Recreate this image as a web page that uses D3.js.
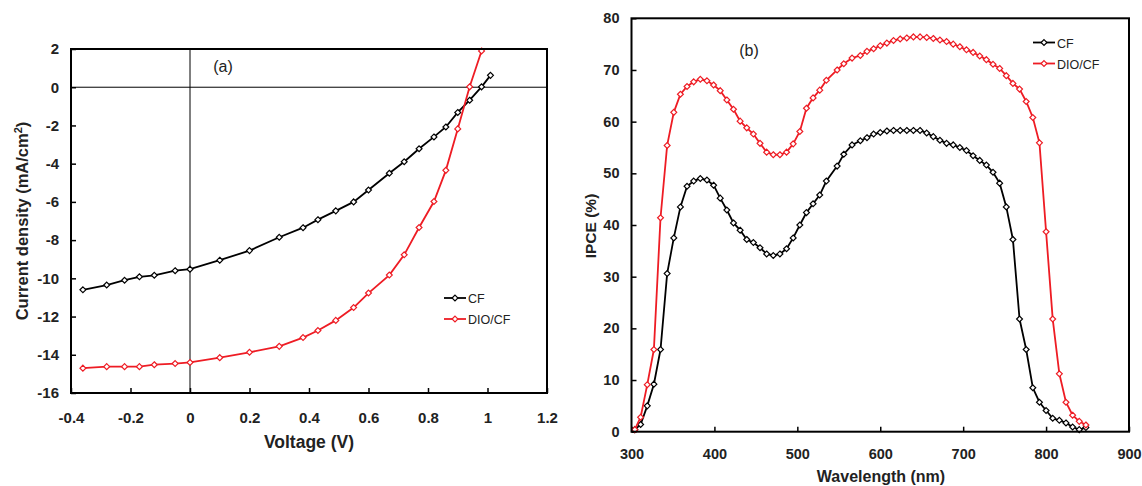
<!DOCTYPE html>
<html>
<head>
<meta charset="utf-8">
<script src="https://cdn.jsdelivr.net/npm/d3@7"></script>
<style>
  body { margin: 0; background: #fff; }
  svg { display: block; font-family: "Liberation Sans", Arial, sans-serif; }
</style>
</head>
<body>
<svg id="chart"></svg>
<script>
const width = 1142;
const height = 486;

// ---- panel (a): J-V curves ----
const voltage = [-0.36, -0.28, -0.22, -0.17, -0.12, -0.05, 0, 0.1, 0.2, 0.3, 0.38, 0.43,
    0.49, 0.55, 0.6, 0.67, 0.72, 0.77, 0.82, 0.86, 0.9, 0.94, 0.98, 1.01];
const jCF = [-10.6, -10.35, -10.1, -9.92, -9.84, -9.6, -9.52, -9.05, -8.55, -7.85, -7.35, -6.93,
    -6.47, -6.0, -5.38, -4.5, -3.9, -3.22, -2.6, -2.08, -1.32, -0.68, 0.02, 0.62];
const jDIO = [-14.7, -14.62, -14.62, -14.62, -14.52, -14.46, -14.4, -14.15, -13.87, -13.56, -13.1, -12.73,
    -12.2, -11.53, -10.77, -9.83, -8.77, -7.34, -5.98, -4.35, -2.18, 0.02, 1.9];
const voltTicks = [-0.4, -0.2, 0, 0.2, 0.4, 0.6, 0.8, 1, 1.2];
const jTicks = [-16, -14, -12, -10, -8, -6, -4, -2, 0, 2];

// ---- panel (b): IPCE spectra ----
const wavelength = [304, 311, 319, 327, 335, 343, 351, 359, 367, 375, 383, 391, 399, 407, 415, 423,
    431, 439, 447, 455, 463, 471, 479, 487, 495, 503, 511, 519, 527, 535, 548, 556, 566, 576,
    584, 592, 600, 608, 616, 624, 632, 640, 648, 656, 664, 672, 680, 688, 696, 704, 712, 720,
    728, 736, 744, 752, 760, 768, 776, 784, 792, 800, 808, 816, 824, 832, 840, 848];
const ipceCF = [0.4, 1.4, 5.0, 9.2, 15.9, 30.6, 37.5, 43.5, 47.5, 48.5, 49.0, 48.7, 47.7, 45.2, 42.9, 40.4,
    39.0, 37.2, 36.6, 35.6, 34.4, 34.1, 34.4, 35.4, 37.5, 40.0, 42.4, 44.1, 45.8, 48.5, 51.4, 53.7, 55.5, 56.3,
    56.9, 57.6, 57.9, 58.2, 58.3, 58.3, 58.3, 58.3, 58.3, 57.8, 57.1, 56.4, 55.8, 55.5, 55.0, 54.4, 53.4, 52.5,
    51.6, 50.2, 48.1, 43.5, 37.2, 21.8, 15.9, 8.5, 5.7, 4.1, 2.6, 2.2, 1.7, 0.9, 0.4, 0.8];
const ipceDIO = [0.4, 2.8, 9.1, 15.9, 41.4, 55.4, 61.8, 65.3, 66.8, 67.7, 68.2, 67.9, 67.1, 66.0, 64.2, 62.4,
    60.1, 58.8, 57.6, 55.8, 54.1, 53.6, 53.6, 54.1, 55.7, 58.1, 62.6, 64.6, 66.1, 68.0, 70.0, 71.2, 72.3, 72.8,
    73.6, 74.1, 74.7, 75.2, 75.7, 76.0, 76.2, 76.4, 76.4, 76.3, 76.1, 75.8, 75.5, 75.0, 74.5, 73.9, 73.4, 72.7,
    72.0, 71.1, 70.3, 68.9, 67.4, 66.3, 63.9, 60.8, 55.9, 38.7, 21.8, 11.2, 5.7, 3.2, 2.0, 1.3];
const wlTicks = [300, 400, 500, 600, 700, 800, 900];
const ipceTicks = [0, 10, 20, 30, 40, 50, 60, 70, 80];

const seriesNames = ["CF", "DIO/CF"];
const colors = ["#000000", "#ee1c24"];

const svg = d3.select("#chart")
    .attr("width", width)
    .attr("height", height);

svg.append("rect").attr("width", width).attr("height", height).attr("fill", "#fff");

const marker = d3.symbol().type(d3.symbolDiamond2).size(22);

function drawSeries(g, xs, ys, x, y, color) {
    const pts = ys.map((v, i) => [xs[i], v]);
    g.append("path")
        .datum(pts)
        .attr("fill", "none")
        .attr("stroke", color)
        .attr("stroke-width", 1.8)
        .attr("d", d3.line().x(d => x(d[0])).y(d => y(d[1])));
    g.selectAll(null)
        .data(pts)
        .enter().append("path")
        .attr("d", marker)
        .attr("transform", d => `translate(${x(d[0])},${y(d[1])})`)
        .attr("fill", "#fff")
        .attr("stroke", color)
        .attr("stroke-width", 1.2);
}

function drawLegend(g, lx, ly, fontSize) {
    seriesNames.forEach((name, i) => {
        const yy = ly + i * 21;
        g.append("line")
            .attr("x1", lx).attr("x2", lx + 22)
            .attr("y1", yy).attr("y2", yy)
            .attr("stroke", colors[i]).attr("stroke-width", 1.8);
        g.append("path")
            .attr("d", marker)
            .attr("transform", `translate(${lx + 11},${yy})`)
            .attr("fill", "#fff").attr("stroke", colors[i]).attr("stroke-width", 1.2);
        g.append("text")
            .attr("x", lx + 24).attr("y", yy + 5)
            .attr("font-size", fontSize)
            .attr("fill", "#222")
            .text(name);
    });
}

function styleAxis(g, fontSize) {
    g.select(".domain").remove();
    g.selectAll(".tick line").attr("stroke", "#000").attr("stroke-width", 1.5);
    g.selectAll(".tick text")
        .attr("fill", "#222")
        .attr("font-size", fontSize)
        .attr("font-weight", "bold")
        .attr("font-family", "'Liberation Sans', Arial, sans-serif");
}

// ------------------------------ panel (a) ------------------------------
const xA = d3.scaleLinear().domain([-0.4, 1.2]).range([71, 547]);
const yA = d3.scaleLinear().domain([-16, 2]).range([393, 49]);
const gA = svg.append("g");

gA.append("g")
    .attr("transform", `translate(0,${yA(-16)})`)
    .call(d3.axisBottom(xA).tickValues(voltTicks).tickFormat(d => String(d))
        .tickSizeInner(-5).tickSizeOuter(0).tickPadding(19))
    .call(g => styleAxis(g, 15));

gA.append("g")
    .attr("transform", `translate(${xA(-0.4)},0)`)
    .call(d3.axisLeft(yA).tickValues(jTicks).tickFormat(d => String(d))
        .tickSizeInner(-5).tickSizeOuter(0).tickPadding(12))
    .call(g => styleAxis(g, 15));

// zero lines
gA.append("line")
    .attr("x1", xA(-0.4)).attr("x2", xA(1.2))
    .attr("y1", yA(0)).attr("y2", yA(0))
    .attr("stroke", "#000").attr("stroke-width", 1);
gA.append("line")
    .attr("x1", xA(0)).attr("x2", xA(0))
    .attr("y1", yA(2)).attr("y2", yA(-16))
    .attr("stroke", "#000").attr("stroke-width", 1);

drawSeries(gA, voltage, jCF, xA, yA, colors[0]);
drawSeries(gA, voltage, jDIO, xA, yA, colors[1]);

gA.append("rect")
    .attr("x", xA(-0.4)).attr("y", yA(2))
    .attr("width", xA(1.2) - xA(-0.4)).attr("height", yA(-16) - yA(2))
    .attr("fill", "none").attr("stroke", "#000").attr("stroke-width", 2);

gA.append("text")
    .attr("x", 223).attr("y", 72)
    .attr("text-anchor", "middle")
    .attr("font-size", 16).attr("fill", "#222")
    .text("(a)");

drawLegend(gA, 444, 298, 12.5);

gA.append("text")
    .attr("x", 309).attr("y", 448)
    .attr("text-anchor", "middle")
    .attr("font-size", 17.5).attr("font-weight", "bold").attr("fill", "#222")
    .text("Voltage (V)");

const yTitleA = gA.append("text")
    .attr("transform", "translate(28,221) rotate(-90)")
    .attr("text-anchor", "middle")
    .attr("font-size", 16.5).attr("font-weight", "bold").attr("fill", "#222");
yTitleA.append("tspan").text("Current density (mA/cm");
yTitleA.append("tspan").attr("font-size", 11).attr("dy", -6).text("2");
yTitleA.append("tspan").attr("dy", 6).text(")");

// ------------------------------ panel (b) ------------------------------
const xB = d3.scaleLinear().domain([300, 900]).range([631.5, 1129]);
const yB = d3.scaleLinear().domain([0, 80]).range([431.7, 18.3]);
const gB = svg.append("g");

gB.append("g")
    .attr("transform", `translate(0,${yB(0)})`)
    .call(d3.axisBottom(xB).tickValues(wlTicks).tickFormat(d => String(d))
        .tickSizeInner(-5).tickSizeOuter(0).tickPadding(17))
    .call(g => styleAxis(g, 14.5));

gB.append("g")
    .attr("transform", `translate(${xB(300)},0)`)
    .call(d3.axisLeft(yB).tickValues(ipceTicks).tickFormat(d => String(d))
        .tickSizeInner(-5).tickSizeOuter(0).tickPadding(12))
    .call(g => styleAxis(g, 14.5));

drawSeries(gB, wavelength, ipceCF, xB, yB, colors[0]);
drawSeries(gB, wavelength, ipceDIO, xB, yB, colors[1]);

gB.append("rect")
    .attr("x", xB(300)).attr("y", yB(80))
    .attr("width", xB(900) - xB(300)).attr("height", yB(0) - yB(80))
    .attr("fill", "none").attr("stroke", "#000").attr("stroke-width", 2);

gB.append("text")
    .attr("x", 749).attr("y", 56)
    .attr("text-anchor", "middle")
    .attr("font-size", 16).attr("fill", "#222")
    .text("(b)");

drawLegend(gB, 1033, 42.5, 12.5);

gB.append("text")
    .attr("x", 881).attr("y", 482)
    .attr("text-anchor", "middle")
    .attr("font-size", 16).attr("font-weight", "bold").attr("fill", "#222")
    .text("Wavelength (nm)");

gB.append("text")
    .attr("transform", "translate(596,226) rotate(-90)")
    .attr("text-anchor", "middle")
    .attr("font-size", 15.5).attr("font-weight", "bold").attr("fill", "#222")
    .text("IPCE (%)");
</script>
</body>
</html>
